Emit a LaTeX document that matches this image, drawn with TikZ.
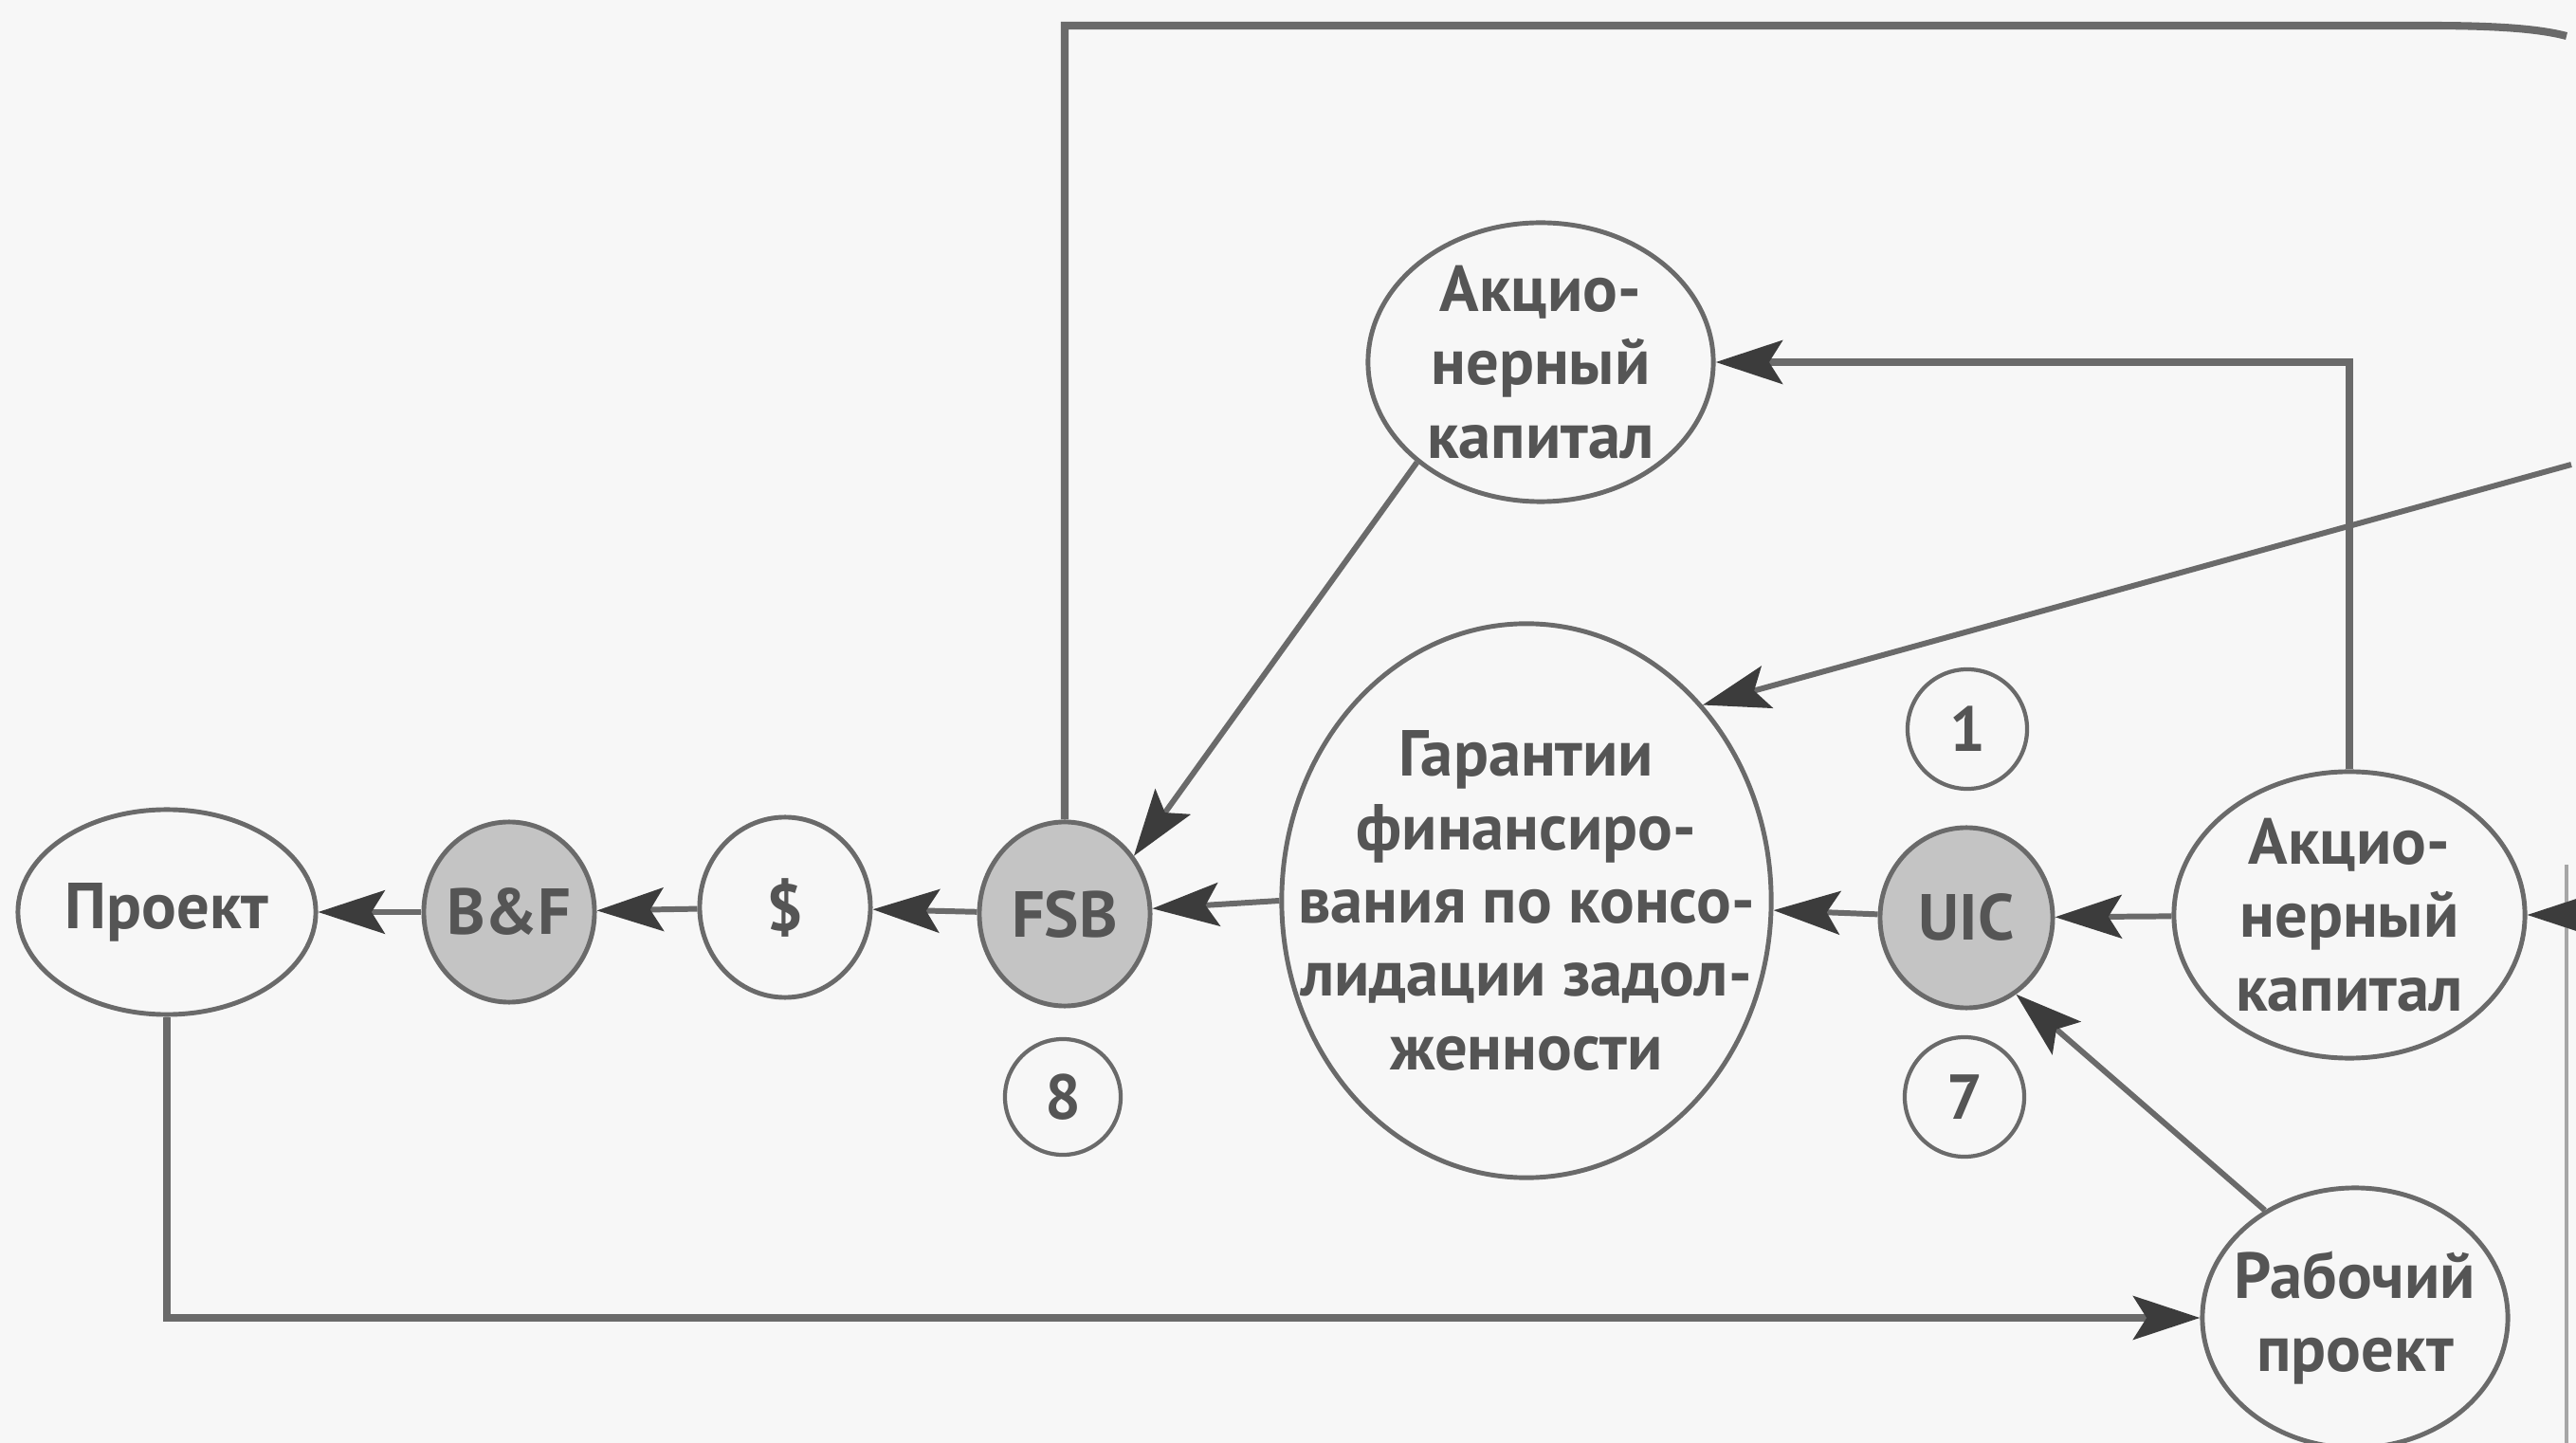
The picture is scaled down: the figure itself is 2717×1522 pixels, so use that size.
\documentclass[tikz,border=0pt]{standalone}
\usepackage{fontspec}
\setmainfont{PT Sans}
\usetikzlibrary{shapes.geometric,arrows.meta}
\definecolor{bgc}{HTML}{F7F7F7}
\definecolor{linec}{HTML}{6A6A6A}
\definecolor{tipc}{HTML}{3C3C3C}
\definecolor{fillc}{HTML}{C4C4C4}
\definecolor{txtc}{HTML}{555555}

\begin{document}
\begin{tikzpicture}[x=0.01cm,y=-0.01cm,
  oval/.style={ellipse, draw=linec, line width=1.4pt, inner sep=0pt},
  shaded/.style={oval, fill=fillc},
  numc/.style={circle, draw=linec, line width=1.2pt, inner sep=0pt,
    minimum size=1.26cm, font=\fontsize{19}{22}\selectfont\bfseries, text=txtc},
  lbl/.style={align=center, inner sep=0pt,
    font=\fontsize{19.5}{22}\selectfont\bfseries, text=txtc},
  conn/.style={draw=linec, line width=1.7pt,
    -{Stealth[length=20pt,width=13pt,inset=4pt,color=tipc]}},
  heavy/.style={draw=linec, line width=2.3pt},
]
% page
\fill[bgc] (0,0) rectangle (2717,1522);
\useasboundingbox (0,0) rectangle (2717,1522);

% main chain
\node[oval, minimum width=3.14cm, minimum height=2.16cm] (proj) at (176,962) {};
\node[lbl] at (proj) {Проект};
\node[shaded, minimum width=1.80cm, minimum height=1.90cm] (bf) at (537,962) {};
\node[lbl] at (bf) {B\&F};
\node[oval, minimum width=1.80cm, minimum height=1.90cm] (usd) at (828,957) {};
\node[lbl] at (usd) {\$};
\node[shaded, minimum width=1.80cm, minimum height=1.94cm] (fsb) at (1123,964) {};
\node[lbl] at (fsb) {FSB};
\node[oval, minimum width=5.16cm, minimum height=5.84cm] (gar) at (1610,950) {};
\node[lbl] at (gar) {Гарантии\\финансиро-\\вания по консо-\\лидации задол-\\женности};
\node[shaded, minimum width=1.82cm, minimum height=1.90cm] (uic) at (2074,968) {};
\node[lbl] at (uic) {UIC};
\node[oval, minimum width=3.70cm, minimum height=3.02cm] (akr) at (2478,965) {};
\node[lbl] at (akr) {Акцио-\\нерный\\капитал};
\node[oval, minimum width=3.64cm, minimum height=2.94cm] (akt) at (1625,382) {};
\node[lbl] at (akt) {Акцио-\\нерный\\капитал};
\node[oval, minimum width=3.22cm, minimum height=2.74cm] (rab) at (2484,1390) {};
\node[lbl] at (rab) {Рабочий\\проект};

% step numbers
\node[numc, minimum size=1.22cm] (n8) at (1121,1157) {8};
\node[numc] (n1) at (2075,769) {1};
\node[numc] (n7) at (2072,1157) {7};

% loose ends at the right margin
\coordinate (topEnd) at (2707,38);
\coordinate (slopeIn) at (2712,490);
\coordinate (edgeIn) at (2714,965);

% page edge
\draw[gray!70, line width=0.9pt] (2707,912) -- (2707,1522);

% connectors
\draw[conn] (bf) -- (proj);
\draw[conn] (usd) -- (bf);
\draw[conn] (fsb) -- (usd);
\draw[conn] (gar.west) -- (fsb);
\draw[conn] (uic) -- (gar);
\draw[conn] (akr) -- (uic);
\draw[conn] (edgeIn) -- (akr.east);
\draw[conn] (rab.130) -- (uic.-57);
\draw[conn] (akt.219) -- (fsb.40);
\draw[conn] (slopeIn) -- (gar.48);
\draw[conn, line width=2.3pt] (akr.north) |- (akt.east);
\draw[conn, line width=2.3pt] (proj.south) |- (rab.west);
\draw[heavy] (fsb.north) -- (fsb.north |- 0,27) -- (2560,27)
  .. controls (2640,27) and (2680,31) .. (topEnd);
\end{tikzpicture}
\end{document}
